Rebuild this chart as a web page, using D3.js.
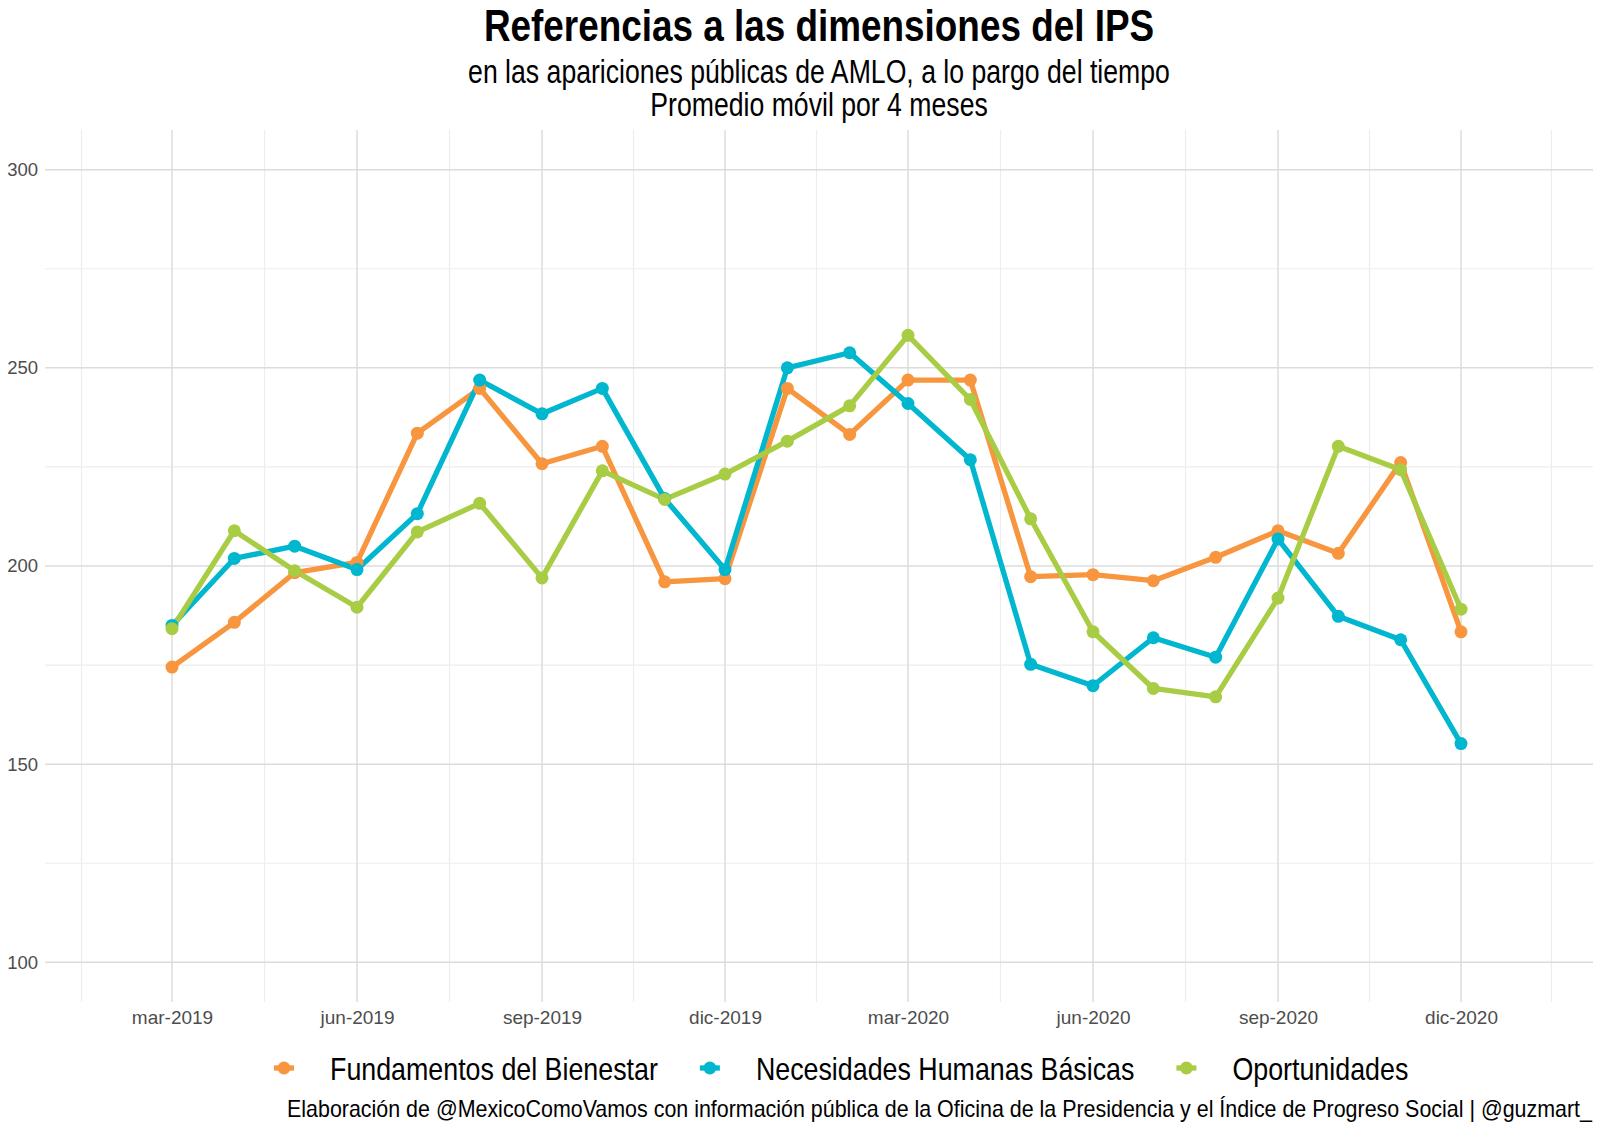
<!DOCTYPE html>
<html>
<head>
<meta charset="utf-8">
<script src="https://cdn.jsdelivr.net/npm/d3@7"></script>
<style>
  html, body { margin: 0; padding: 0; background: #ffffff; }
  svg { display: block; }
</style>
</head>
<body>
<svg id="chart" width="1600" height="1129"></svg>
<script>
// ---------- DATA ----------
const months = [
  "2019-03","2019-04","2019-05","2019-06","2019-07","2019-08","2019-09","2019-10","2019-11","2019-12",
  "2020-01","2020-02","2020-03","2020-04","2020-05","2020-06","2020-07","2020-08","2020-09","2020-10","2020-11","2020-12"
];
const seriesNames = ["Fundamentos del Bienestar", "Necesidades Humanas Básicas", "Oportunidades"];
const fundamentos = [174.5,185.8,198.3,200.9,233.5,244.8,225.8,230.2,196.0,196.8,244.8,233.2,246.9,246.9,197.3,197.8,196.3,202.2,208.9,203.2,226.1,183.4];
const necesidades = [185.0,201.9,205.0,199.1,213.2,246.9,238.4,244.8,217.0,199.1,250.0,253.8,241.0,226.8,175.2,169.8,181.9,177.0,206.8,187.3,181.4,155.2];
const oportunidades = [184.2,208.9,198.8,189.6,208.6,215.8,197.0,224.0,216.8,223.2,231.5,240.4,258.2,242.0,211.9,183.4,169.1,167.0,191.9,230.2,224.3,189.1];
const colors = ["#F7963E", "#00B7CF", "#A9CC45"];
const xTickDates = ["2019-03","2019-06","2019-09","2019-12","2020-03","2020-06","2020-09","2020-12"];
const monthAbbr = ["ene","feb","mar","abr","may","jun","jul","ago","sep","oct","nov","dic"];
const yTicks = [100,150,200,250,300];
const yMinor = [125,175,225,275];
const title = "Referencias a las dimensiones del IPS";
const subtitle1 = "en las apariciones públicas de AMLO, a lo pargo del tiempo";
const subtitle2 = "Promedio móvil por 4 meses";
const caption = "Elaboración de @MexicoComoVamos con información pública de la Oficina de la Presidencia y el Índice de Progreso Social | @guzmart_";

// ---------- SETUP ----------
const parse = s => { const [y,m] = s.split("-").map(Number); return new Date(y, m-1, 1); };
const dates = months.map(parse);
const allSeries = [fundamentos, necesidades, oportunidades];

const svg = d3.select("#chart");
const panel = { left: 45, right: 1593, top: 130, bottom: 1002 };
const font = "'Liberation Sans', Arial, sans-serif";
const SQ = 0.82; // horizontal condensing (narrow look)
const SQ_LEGEND = 0.838;

const x = d3.scaleTime().domain([parse("2019-03"), parse("2020-12")]).range([172, 1461]);
const y = d3.scaleLinear().domain([90, 310]).range([panel.bottom, panel.top]);

function condensed(parent, tx, ty, str, size, anchor, weight, sq) {
  return parent.append("text")
    .attr("transform", `translate(${tx},${ty}) scale(${sq},1)`)
    .attr("text-anchor", anchor)
    .attr("font-family", font).attr("font-weight", weight || "normal")
    .attr("font-size", size).attr("fill", "#000").text(str);
}

// ---------- GRID ----------
const g = svg.append("g");
const qBreaks = [];
for (let d = new Date(2018, 8, 1); d <= new Date(2021, 5, 1); d = new Date(d.getFullYear(), d.getMonth()+3, 1)) qBreaks.push(d);
const minorX = [];
for (let i = 0; i < qBreaks.length - 1; i++) {
  const mid = new Date((qBreaks[i].getTime() + qBreaks[i+1].getTime()) / 2);
  const px = x(mid);
  if (px > panel.left && px < panel.right) minorX.push(mid);
}
g.selectAll(".vminor").data(minorX).join("line")
  .attr("x1", d => x(d)).attr("x2", d => x(d))
  .attr("y1", panel.top).attr("y2", panel.bottom)
  .attr("stroke", "#ededed").attr("stroke-width", 1.2);
g.selectAll(".hminor").data(yMinor).join("line")
  .attr("x1", panel.left).attr("x2", panel.right)
  .attr("y1", d => y(d)).attr("y2", d => y(d))
  .attr("stroke", "#ededed").attr("stroke-width", 1.2);
g.selectAll(".vmajor").data(xTickDates.map(parse)).join("line")
  .attr("x1", d => x(d)).attr("x2", d => x(d))
  .attr("y1", panel.top).attr("y2", panel.bottom)
  .attr("stroke", "#dcdcdc").attr("stroke-width", 1.5);
g.selectAll(".hmajor").data(yTicks).join("line")
  .attr("x1", panel.left).attr("x2", panel.right)
  .attr("y1", d => y(d)).attr("y2", d => y(d))
  .attr("stroke", "#dcdcdc").attr("stroke-width", 1.5);

// ---------- AXES ----------
const xAxis = d3.axisBottom(x)
  .tickValues(xTickDates.map(parse))
  .tickSize(0).tickPadding(0)
  .tickFormat(d => monthAbbr[d.getMonth()] + "-" + d.getFullYear());
const xg = svg.append("g").attr("transform", `translate(0, ${1010})`).call(xAxis);
xg.select(".domain").remove();
xg.selectAll("text").attr("font-family", font).attr("font-size", 19).attr("fill", "#4d4d4d").attr("dy", "0.71em");

const yAxis = d3.axisLeft(y).tickValues(yTicks).tickSize(0).tickPadding(0);
const yg = svg.append("g").attr("transform", `translate(38, 0)`).call(yAxis);
yg.select(".domain").remove();
yg.selectAll("text").attr("font-family", font).attr("font-size", 18.5).attr("fill", "#4d4d4d");

// ---------- LINES & POINTS ----------
const line = d3.line().x((d, i) => x(dates[i])).y(d => y(d));
allSeries.forEach((s, k) => {
  svg.append("path").datum(s).attr("d", line)
    .attr("fill", "none").attr("stroke", colors[k]).attr("stroke-width", 5.3)
    .attr("stroke-linejoin", "round").attr("stroke-linecap", "butt");
});
allSeries.forEach((s, k) => {
  svg.append("g").selectAll("circle").data(s).join("circle")
    .attr("cx", (d, i) => x(dates[i])).attr("cy", d => y(d)).attr("r", 6.5)
    .attr("fill", colors[k]);
});

// ---------- TITLES ----------
const cx = (panel.left + panel.right) / 2;
condensed(svg, cx, 41, title, 45, "middle", "bold", SQ);
condensed(svg, cx, 83, subtitle1, 32.5, "middle", "normal", SQ);
condensed(svg, cx, 116, subtitle2, 32.5, "middle", "normal", SQ);

// ---------- LEGEND ----------
const lg = svg.append("g");
let kx = 284;
const ly = 1068;
seriesNames.forEach((name, k) => {
  lg.append("line").attr("x1", kx - 10).attr("x2", kx + 10).attr("y1", ly).attr("y2", ly)
    .attr("stroke", colors[k]).attr("stroke-width", 5.3);
  lg.append("circle").attr("cx", kx).attr("cy", ly).attr("r", 6.5).attr("fill", colors[k]);
  const t = condensed(lg, kx + 46, ly + 11.5, name, 32, "start", "normal", SQ_LEGEND);
  kx = kx + 46 + t.node().getComputedTextLength() * SQ_LEGEND + 52;
});

// ---------- CAPTION ----------
condensed(svg, 1592, 1117, caption, 23, "end", "normal", 0.932);
</script>
</body>
</html>
